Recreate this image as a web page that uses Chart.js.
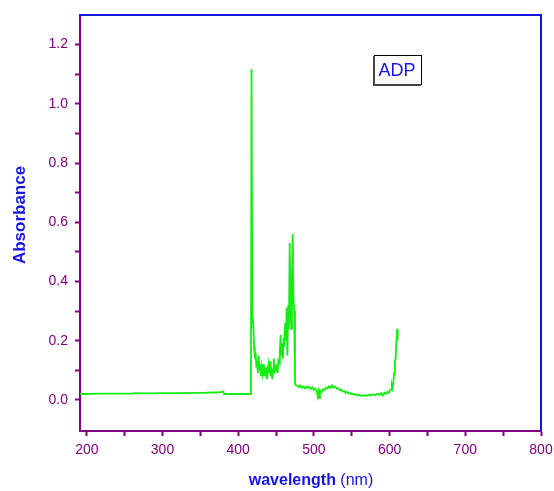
<!DOCTYPE html>
<html lang="en">
<head>
<meta charset="UTF-8">
<title>ADP absorbance spectrum</title>
<script src="https://cdn.jsdelivr.net/npm/chart.js"></script>
<style>
  body { margin: 0; background: #fff; }
  #wrap { width: 554px; height: 491px; }
</style>
</head>
<body>
<div id="wrap"><canvas id="spectrum" width="554" height="491"></canvas></div>
<script>
// spectrum (nm, absorbance)
const wavelength = [
  191, 200, 215, 230, 245, 260, 263, 280, 300, 320, 340, 355, 365, 372, 376, 378, 379.5, 380.5, 381.5, 390, 400, 410, 416.8,
  417.6, 418.6, 419.3, 420, 421, 422, 423, 424, 425, 426, 427, 428, 429, 430, 431, 432, 433, 434, 435, 436, 437, 438, 439,
  440, 441, 442, 443, 444, 445, 446, 447, 448, 449, 450, 451, 452, 453, 454, 455, 456, 457, 458, 459, 460, 461, 462, 463,
  464, 465, 466, 467, 468, 469, 470, 471, 472, 473, 474, 475, 476,
  478, 480, 482, 484, 486, 488, 490, 492, 494, 496, 498, 500, 502, 504, 505, 506, 507, 508,
  510, 512, 514, 516, 518, 520, 522, 524, 526, 528, 530, 532, 534, 536, 538, 540, 542, 544, 546, 548, 550, 552, 554, 556, 558, 560,
  563, 566, 569, 572, 575, 578, 581, 584, 587, 589, 591, 593, 595, 597, 599,
  600, 602, 603, 604, 605, 606, 607, 608, 609, 610, 610.6
];
const absorbance = [
  0.020, 0.020, 0.021, 0.021, 0.021, 0.021, 0.023, 0.022, 0.023, 0.023, 0.024, 0.024, 0.025, 0.025, 0.026, 0.026, 0.029, 0.028, 0.020, 0.020, 0.020, 0.020, 0.020,
  1.118, 0.26, 0.28, 0.25, 0.18, 0.14, 0.16, 0.11, 0.13, 0.09, 0.15, 0.10, 0.12, 0.08, 0.11, 0.09, 0.12, 0.08, 0.10, 0.09, 0.11, 0.07, 0.10,
  0.12, 0.09, 0.13, 0.08, 0.11, 0.07, 0.10, 0.14, 0.09, 0.11, 0.10, 0.12, 0.09, 0.13, 0.12, 0.16, 0.22, 0.15, 0.19, 0.14, 0.21, 0.18, 0.26, 0.20,
  0.31, 0.15, 0.32, 0.24, 0.53, 0.33, 0.24, 0.42, 0.56, 0.34, 0.30, 0.06, 0.05,
  0.048, 0.043, 0.049, 0.041, 0.046, 0.039, 0.045, 0.040, 0.044, 0.037, 0.042, 0.034, 0.038, 0.026, 0.012, 0.027, 0.006, 0.031,
  0.026, 0.036, 0.033, 0.041, 0.038, 0.046, 0.041, 0.049, 0.042, 0.045, 0.038, 0.040, 0.033, 0.035, 0.028, 0.030, 0.024, 0.027, 0.021, 0.024, 0.019, 0.021, 0.017, 0.019, 0.015, 0.017,
  0.013, 0.016, 0.014, 0.017, 0.015, 0.019, 0.016, 0.021, 0.017, 0.023, 0.015, 0.024, 0.020, 0.027, 0.024,
  0.031, 0.035, 0.050, 0.040, 0.060, 0.090, 0.130, 0.140, 0.200, 0.240, 0.200
];

const xTicks = [200, 250, 300, 350, 400, 450, 500, 550, 600, 650, 700, 750, 800];
const xLabels = [200, 300, 400, 500, 600, 700, 800];
const yTicks = [0, 0.1, 0.2, 0.3, 0.4, 0.5, 0.6, 0.7, 0.8, 0.9, 1.0, 1.1, 1.2];
const yLabels = ['0.0', '0.2', '0.4', '0.6', '0.8', '1.0', '1.2'];

const purple = '#800080';
const blue = '#1414e6';
const green = '#14ec14';

// top/right frame, axis titles and the ADP label box
const decorations = {
  id: 'decorations',
  afterDraw(chart) {
    const { ctx, chartArea: a } = chart;
    ctx.save();
    ctx.strokeStyle = blue;
    ctx.lineWidth = 2;
    ctx.beginPath();
    ctx.moveTo(a.left, a.top);
    ctx.lineTo(a.right, a.top);
    ctx.lineTo(a.right, a.bottom);
    ctx.stroke();

    // y title
    ctx.fillStyle = blue;
    ctx.font = 'bold 17px "Liberation Sans", Arial, sans-serif';
    ctx.textAlign = 'center';
    ctx.textBaseline = 'middle';
    ctx.translate(20, 215);
    ctx.rotate(-Math.PI / 2);
    ctx.fillText('Absorbance', 0, 0);
    ctx.restore();

    // x title: bold word + normal unit
    ctx.save();
    ctx.fillStyle = blue;
    ctx.textBaseline = 'alphabetic';
    const bold = 'bold 16px "Liberation Sans", Arial, sans-serif';
    const normal = '16px "Liberation Sans", Arial, sans-serif';
    ctx.font = bold;
    const w1 = ctx.measureText('wavelength').width;
    ctx.font = normal;
    const w2 = ctx.measureText(' (nm)').width;
    let x = 311 - (w1 + w2) / 2;
    ctx.font = bold;
    ctx.fillText('wavelength', x, 485);
    ctx.font = normal;
    ctx.fillText(' (nm)', x + w1, 485);

    // legend box
    ctx.fillStyle = '#fff';
    ctx.fillRect(374, 55, 47, 30);
    ctx.strokeStyle = '#000';
    ctx.lineWidth = 1;
    ctx.strokeRect(374.5, 55.5, 47, 29);
    ctx.fillStyle = '#444';
    ctx.fillRect(373, 56, 2, 30);
    ctx.fillRect(373, 84, 48, 2);
    ctx.fillStyle = blue;
    ctx.font = '18px "Liberation Sans", Arial, sans-serif';
    ctx.textAlign = 'center';
    ctx.textBaseline = 'middle';
    ctx.fillText('ADP', 397, 71);
    ctx.restore();
  }
};

const points = wavelength.map((w, i) => ({ x: w, y: absorbance[i] }));

new Chart(document.getElementById('spectrum'), {
  type: 'line',
  data: {
    datasets: [{
      data: points,
      borderColor: green,
      borderWidth: 1.8,
      pointRadius: 0,
      tension: 0,
      fill: false
    }]
  },
  options: {
    responsive: false,
    animation: false,
    devicePixelRatio: 1,
    layout: { padding: { left: 0, right: 13, top: 15, bottom: 0 } },
    plugins: { legend: { display: false }, tooltip: { enabled: false } },
    scales: {
      x: {
        type: 'linear',
        min: 191,
        max: 800,
        afterFit(scale) {
          scale.height = 60;
          scale.paddingLeft = 0;
          scale.paddingRight = 0;
        },
        afterBuildTicks(scale) { scale.ticks = xTicks.map(v => ({ value: v })); },
        grid: { drawOnChartArea: false, color: purple, tickColor: purple, tickLength: 5, tickWidth: 2 },
        border: { color: purple, width: 2 },
        ticks: {
          color: purple,
          padding: 6,
          maxRotation: 0,
          autoSkip: false,
          font: { family: '"Liberation Sans", Arial, sans-serif', size: 14 },
          callback: v => xLabels.includes(v) ? String(v) : ''
        }
      },
      y: {
        min: -0.105,
        max: 1.30,
        afterFit(scale) {
          scale.width = 80;
          scale.paddingTop = 0;
          scale.paddingBottom = 0;
        },
        afterBuildTicks(scale) { scale.ticks = yTicks.map(v => ({ value: v })); },
        grid: { drawOnChartArea: false, color: purple, tickColor: purple, tickLength: 5, tickWidth: 2 },
        border: { color: purple, width: 2 },
        ticks: {
          color: purple,
          padding: 7,
          autoSkip: false,
          font: { family: '"Liberation Sans", Arial, sans-serif', size: 14 },
          callback: v => {
            const s = v.toFixed(1);
            return yLabels.includes(s) ? s : '';
          }
        }
      }
    }
  },
  plugins: [decorations]
});
</script>
</body>
</html>
